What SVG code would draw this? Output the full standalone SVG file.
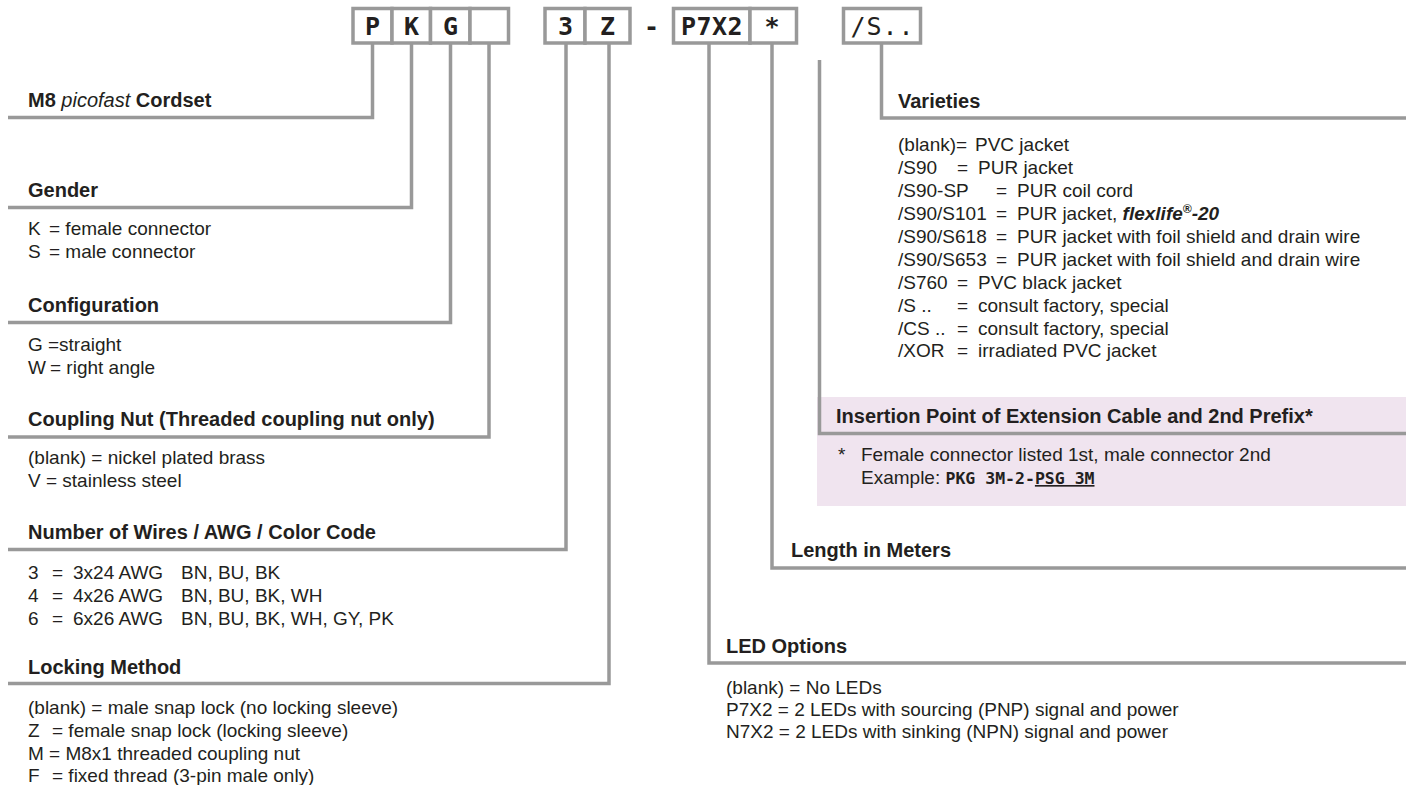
<svg xmlns="http://www.w3.org/2000/svg" width="1406" height="785" viewBox="0 0 1406 785">
<style>
.ln{stroke:#999;stroke-width:3.5;fill:none}
.cell{fill:#fff;stroke:#999;stroke-width:3.5}
.h{font-family:"Liberation Sans",Arial,sans-serif;font-weight:bold;font-size:20px;fill:#231f20}
.t{font-family:"Liberation Sans",Arial,sans-serif;font-size:19px;fill:#231f20}
.code{font-family:"DejaVu Sans Mono","Liberation Mono",monospace;font-weight:bold;font-size:25px;text-anchor:middle;fill:#231f20}
.mono{font-family:"DejaVu Sans Mono","Liberation Mono",monospace;font-weight:bold;font-size:16.5px}
.bi{font-weight:bold;font-style:italic}
</style>
<rect width="1406" height="785" fill="#fff"/>

<g id="insertion-bg">
<rect x="817" y="397" width="589" height="109" fill="#f0e4ef"/>
</g>

<g id="connectors">
<path class="ln" d="M372.5 43V117.5H8"/>
<path class="ln" d="M411.5 43V207.5H8"/>
<path class="ln" d="M450.5 43V322.5H8"/>
<path class="ln" d="M489 43V437H8"/>
<path class="ln" d="M566 43V549.5H8"/>
<path class="ln" d="M609 43V683.5H8"/>
<path class="ln" d="M709 43V663H1406"/>
<path class="ln" d="M772 43V568H1406"/>
<path class="ln" d="M819.5 60V433.5H1406"/>
<path class="ln" d="M881.5 43V118H1406"/>
</g>

<g id="code-PKG">
<rect class="cell" x="353" y="8.5" width="39" height="34.5"/>
<rect class="cell" x="392" y="8.5" width="38.5" height="34.5"/>
<rect class="cell" x="430.5" y="8.5" width="39.5" height="34.5"/>
<rect class="cell" x="470" y="8.5" width="38.5" height="34.5"/>
<text class="code" x="372.5" y="34.5">P</text>
<text class="code" x="411.5" y="34.5">K</text>
<text class="code" x="450.5" y="34.5">G</text>
</g>
<g id="code-3Z">
<rect class="cell" x="545" y="8.5" width="40" height="34.5"/>
<rect class="cell" x="585" y="8.5" width="45" height="34.5"/>
<text class="code" x="565.5" y="34.5">3</text>
<text class="code" x="607.5" y="34.5">Z</text>
</g>
<g id="code-dash">
<text class="code" x="651.5" y="34.5">-</text>
</g>
<g id="code-P7X2">
<rect class="cell" x="673.5" y="8.5" width="76.5" height="34.5"/>
<rect class="cell" x="750" y="8.5" width="46.5" height="34.5"/>
<text class="code" x="712" y="34.5" letter-spacing="0.5">P7X2</text>
<text class="code" x="772" y="34.5">*</text>
</g>
<g id="code-S">
<rect class="cell" x="843.5" y="8.5" width="77" height="34.5"/>
<text class="code" x="882.5" y="34.5" style="font-weight:normal" letter-spacing="1">/S..</text>
</g>

<g id="node-cordset">
<text class="h" x="28" y="107">M8 <tspan font-style="italic" font-weight="normal">picofast</tspan> Cordset</text>
</g>

<g id="node-gender">
<text class="h" x="28" y="197">Gender</text>
<text class="t" y="235"><tspan x="28">K</tspan><tspan x="49">= female connector</tspan></text>
<text class="t" y="258"><tspan x="28">S</tspan><tspan x="49">= male connector</tspan></text>
</g>

<g id="node-configuration">
<text class="h" x="28" y="311.5">Configuration</text>
<text class="t" y="351"><tspan x="28">G</tspan><tspan x="48">=straight</tspan></text>
<text class="t" y="374"><tspan x="28">W</tspan><tspan x="50">= right angle</tspan></text>
</g>

<g id="node-coupling">
<text class="h" x="28" y="426">Coupling Nut (Threaded coupling nut only)</text>
<text class="t" x="28" y="464">(blank) = nickel plated brass</text>
<text class="t" x="28" y="487">V = stainless steel</text>
</g>

<g id="node-wires">
<text class="h" x="28" y="539">Number of Wires / AWG / Color Code</text>
<text class="t" y="579"><tspan x="28">3</tspan><tspan x="52">=</tspan><tspan x="73">3x24 AWG</tspan><tspan x="181">BN, BU, BK</tspan></text>
<text class="t" y="602"><tspan x="28">4</tspan><tspan x="52">=</tspan><tspan x="73">4x26 AWG</tspan><tspan x="181">BN, BU, BK, WH</tspan></text>
<text class="t" y="625"><tspan x="28">6</tspan><tspan x="52">=</tspan><tspan x="73">6x26 AWG</tspan><tspan x="181">BN, BU, BK, WH, GY, PK</tspan></text>
</g>

<g id="node-locking">
<text class="h" x="28" y="674">Locking Method</text>
<text class="t" x="28" y="714">(blank) = male snap lock (no locking sleeve)</text>
<text class="t" y="737"><tspan x="28">Z</tspan><tspan x="52">= female snap lock (locking sleeve)</tspan></text>
<text class="t" x="28" y="759.5">M = M8x1 threaded coupling nut</text>
<text class="t" y="782"><tspan x="28">F</tspan><tspan x="52">= fixed thread (3-pin male only)</tspan></text>
</g>

<g id="node-varieties">
<text class="h" x="898" y="108">Varieties</text>
<text class="t" y="151"><tspan x="898">(blank)=</tspan><tspan x="975">PVC jacket</tspan></text>
<text class="t" y="174"><tspan x="898">/S90</tspan><tspan x="957">=</tspan><tspan x="978">PUR jacket</tspan></text>
<text class="t" y="197"><tspan x="898">/S90-SP</tspan><tspan x="996">=</tspan><tspan x="1017">PUR coil cord</tspan></text>
<text class="t" y="220"><tspan x="898">/S90/S101</tspan><tspan x="996">=</tspan><tspan x="1017">PUR jacket, </tspan><tspan class="bi">flexlife</tspan><tspan class="bi" font-size="12" dy="-7">®</tspan><tspan class="bi" dy="7">-20</tspan></text>
<text class="t" y="243"><tspan x="898">/S90/S618</tspan><tspan x="996">=</tspan><tspan x="1017">PUR jacket with foil shield and drain wire</tspan></text>
<text class="t" y="266"><tspan x="898">/S90/S653</tspan><tspan x="996">=</tspan><tspan x="1017">PUR jacket with foil shield and drain wire</tspan></text>
<text class="t" y="289"><tspan x="898">/S760</tspan><tspan x="957">=</tspan><tspan x="978">PVC black jacket</tspan></text>
<text class="t" y="312"><tspan x="898">/S ..</tspan><tspan x="957">=</tspan><tspan x="978">consult factory, special</tspan></text>
<text class="t" y="335"><tspan x="898">/CS ..</tspan><tspan x="957">=</tspan><tspan x="978">consult factory, special</tspan></text>
<text class="t" y="357"><tspan x="898">/XOR</tspan><tspan x="957">=</tspan><tspan x="978">irradiated PVC jacket</tspan></text>
</g>

<g id="node-insertion">
<text class="h" x="836" y="423">Insertion Point of Extension Cable and 2nd Prefix*</text>
<text class="t" y="461"><tspan x="838">*</tspan><tspan x="861">Female connector listed 1st, male connector 2nd</tspan></text>
<text class="t" x="861" y="484">Example: <tspan class="mono">PKG 3M-2-</tspan><tspan class="mono" text-decoration="underline">PSG 3M</tspan></text>
</g>

<g id="node-length">
<text class="h" x="791" y="557">Length in Meters</text>
</g>

<g id="node-led">
<text class="h" x="726" y="653">LED Options</text>
<text class="t" x="726" y="694">(blank) = No LEDs</text>
<text class="t" x="726" y="716">P7X2 = 2 LEDs with sourcing (PNP) signal and power</text>
<text class="t" x="726" y="738">N7X2 = 2 LEDs with sinking (NPN) signal and power</text>
</g>
</svg>
